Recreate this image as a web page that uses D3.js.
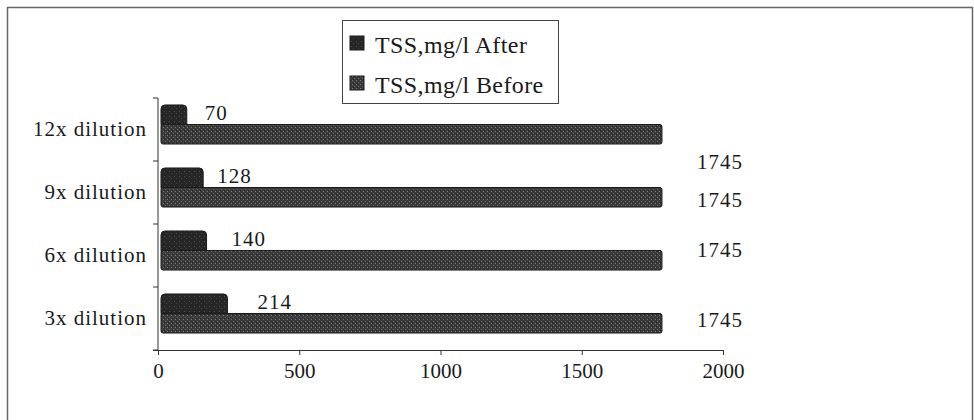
<!DOCTYPE html>
<html>
<head>
<meta charset="utf-8">
<script src="https://cdn.jsdelivr.net/npm/d3@7"></script>
<style>
  body { margin: 0; background: #fff; }
</style>
</head>
<body>
<div id="chart"></div>
<script>
// data, top to bottom as displayed
var categories = ['12x dilution', '9x dilution', '6x dilution', '3x dilution'];
var afterValues = [70, 128, 140, 214];
var beforeValues = [1745, 1745, 1745, 1745];
var seriesNames = ['TSS,mg/l After', 'TSS,mg/l Before'];
var xTicks = [0, 500, 1000, 1500, 2000];

// label nudges (layout only)
var afterLabelDx = [27, 23, 34, 39];
var beforeLabelDy = [28, 3, -10, -3];

var width = 974,
    height = 420;

var fontFamily = '"Liberation Serif", "Times New Roman", serif',
    fontSize = '21px';

var axisColor = '#333',
    textColor = '#1a1a1a';

var svg = d3.select('#chart')
  .append('svg')
  .attr('width', width)
  .attr('height', height);

// textures for the scanned-looking bars
var defs = svg.append('defs');
var pAfter = defs.append('pattern')
  .attr('id', 'texAfter')
  .attr('width', 5).attr('height', 5)
  .attr('patternUnits', 'userSpaceOnUse');
pAfter.append('rect').attr('width', 5).attr('height', 5).attr('fill', '#262626');
pAfter.append('rect').attr('x', 1).attr('y', 1).attr('width', 1).attr('height', 1).attr('fill', '#4e4e4e');
pAfter.append('rect').attr('x', 3).attr('y', 3).attr('width', 1).attr('height', 1).attr('fill', '#444');

var pBefore = defs.append('pattern')
  .attr('id', 'texBefore')
  .attr('width', 4).attr('height', 4)
  .attr('patternUnits', 'userSpaceOnUse');
pBefore.append('rect').attr('width', 4).attr('height', 4).attr('fill', '#3a3a3a');
pBefore.append('rect').attr('x', 0).attr('y', 0).attr('width', 1).attr('height', 1).attr('fill', '#7c7c7c');
pBefore.append('rect').attr('x', 2).attr('y', 2).attr('width', 1).attr('height', 1).attr('fill', '#6e6e6e');
pBefore.append('rect').attr('x', 1).attr('y', 3).attr('width', 1).attr('height', 1).attr('fill', '#222');

// outer frame
svg.append('rect')
  .attr('x', 7.5)
  .attr('y', 7.5)
  .attr('width', 965)
  .attr('height', 440)
  .attr('fill', 'none')
  .attr('stroke', '#666')
  .attr('stroke-width', 1.5);

// scales
var x = d3.scaleLinear()
  .domain([0, 2000])
  .range([158, 723]);

var y = d3.scaleBand()
  .domain(categories)
  .range([98, 350])
  .paddingInner(0.38)
  .paddingOuter(0.19);

var sub = d3.scaleBand()
  .domain(['after', 'before'])
  .range([0, y.bandwidth()]);

// x axis
var xAxis = svg.append('g')
  .attr('transform', 'translate(0,350)')
  .call(d3.axisBottom(x)
    .tickValues(xTicks)
    .tickFormat(d3.format('d'))
    .tickSize(5)
    .tickSizeOuter(0)
    .tickPadding(8));
xAxis.select('.domain').attr('d', 'M153,0.5H' + x(2000));

// y axis (ticks at category boundaries)
var yAxis = svg.append('g');
yAxis.append('line')
  .attr('x1', x(0)).attr('x2', x(0))
  .attr('y1', 98).attr('y2', 350)
  .attr('stroke', axisColor);
var bounds = categories.map(function(c) { return y(c) - y.step() * y.paddingInner() / 2; });
bounds.push(350);
yAxis.selectAll('line.tick')
  .data(bounds)
  .enter()
  .append('line')
  .attr('class', 'tick')
  .attr('x1', x(0) - 5).attr('x2', x(0))
  .attr('y1', function(d) { return d; })
  .attr('y2', function(d) { return d; })
  .attr('stroke', axisColor);

yAxis.selectAll('text')
  .data(categories)
  .enter()
  .append('text')
  .attr('x', 147)
  .attr('y', function(d) { return y(d) + y.bandwidth() / 2 - 1; })
  .attr('text-anchor', 'end')
  .attr('dominant-baseline', 'central')
  .attr('letter-spacing', '1px')
  .text(function(d) { return d; });

svg.selectAll('.tick text, g text')
  .attr('font-family', fontFamily)
  .attr('font-size', fontSize)
  .attr('fill', textColor);
xAxis.selectAll('line, path').attr('stroke', axisColor);

// bars, shifted a little for the 3-D depth look
var bars = svg.append('g').attr('transform', 'translate(3,-5)');

bars.selectAll('rect.after')
  .data(afterValues)
  .enter()
  .append('rect')
  .attr('class', 'after')
  .attr('x', x(0))
  .attr('y', function(d, i) { return y(categories[i]) + sub('after'); })
  .attr('width', function(d) { return x(d) - x(0) + 6; })
  .attr('height', sub.bandwidth() + 4)
  .attr('rx', 4)
  .attr('fill', 'url(#texAfter)')
  .attr('stroke', '#1a1a1a');

bars.selectAll('rect.before')
  .data(beforeValues)
  .enter()
  .append('rect')
  .attr('class', 'before')
  .attr('x', x(0))
  .attr('y', function(d, i) { return y(categories[i]) + sub('before'); })
  .attr('width', function(d) { return x(d) - x(0) + 8; })
  .attr('height', sub.bandwidth())
  .attr('rx', 2)
  .attr('fill', 'url(#texBefore)')
  .attr('stroke', '#1a1a1a');

// value labels
var labels = svg.append('g')
  .attr('font-family', fontFamily)
  .attr('font-size', fontSize)
  .attr('fill', textColor)
  .attr('letter-spacing', '1px');

labels.selectAll('text.after')
  .data(afterValues)
  .enter()
  .append('text')
  .attr('x', function(d, i) { return x(d) + afterLabelDx[i]; })
  .attr('y', function(d, i) { return y(categories[i]) + sub('after') + sub.bandwidth() / 2 - 7; })
  .attr('dominant-baseline', 'central')
  .text(function(d) { return d; });

labels.selectAll('text.before')
  .data(beforeValues)
  .enter()
  .append('text')
  .attr('x', function(d) { return x(d) + 46; })
  .attr('y', function(d, i) { return y(categories[i]) + sub('before') + sub.bandwidth() / 2 - 5 + beforeLabelDy[i]; })
  .attr('dominant-baseline', 'central')
  .text(function(d) { return d; });

// legend
var legend = svg.append('g');
legend.append('rect')
  .attr('x', 342.5)
  .attr('y', 20.5)
  .attr('width', 216)
  .attr('height', 83)
  .attr('fill', '#fff')
  .attr('stroke', '#444');

var legendFills = ['url(#texAfter)', 'url(#texBefore)'];
var item = legend.selectAll('g.item')
  .data(seriesNames)
  .enter()
  .append('g')
  .attr('class', 'item')
  .attr('transform', function(d, i) { return 'translate(0,' + (i * 40) + ')'; });

item.append('rect')
  .attr('x', 350)
  .attr('y', 36)
  .attr('width', 14)
  .attr('height', 14)
  .attr('fill', function(d, i) { return legendFills[i]; })
  .attr('stroke', '#1a1a1a');

item.append('text')
  .attr('x', 375)
  .attr('y', 53)
  .attr('font-family', fontFamily)
  .attr('font-size', '24px')
  .attr('letter-spacing', '0.4px')
  .attr('fill', textColor)
  .text(function(d) { return d; });
</script>
</body>
</html>
